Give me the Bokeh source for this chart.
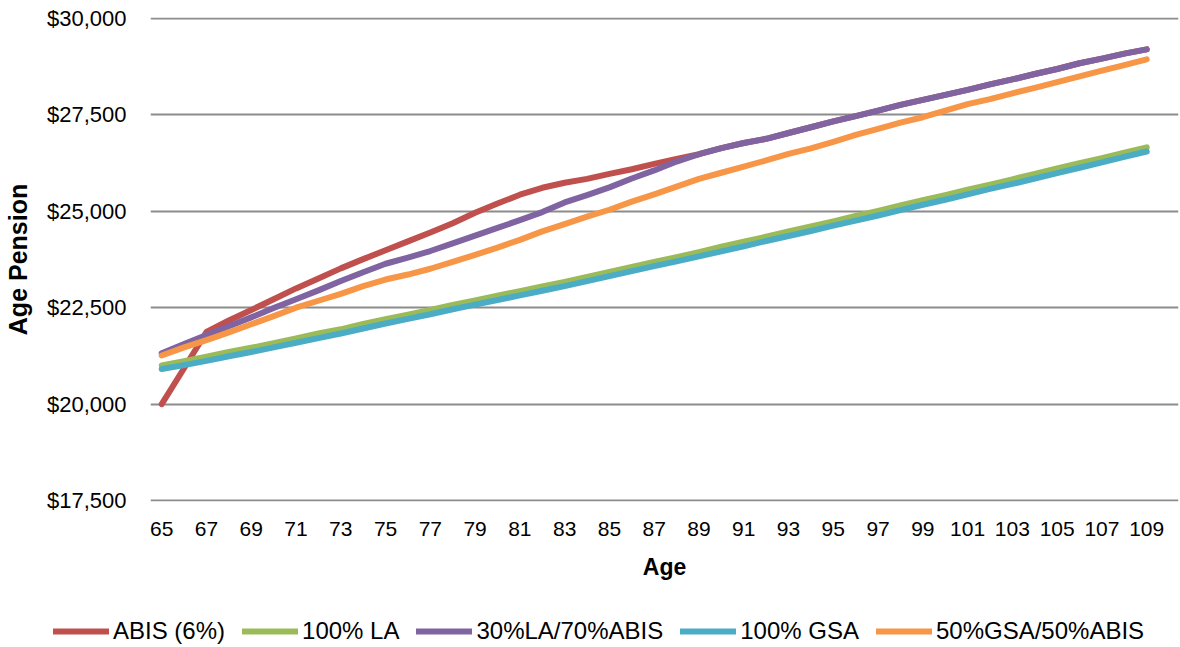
from bokeh.plotting import figure
from bokeh.layouts import column
from bokeh.models import Range1d, FixedTicker, NumeralTickFormatter, Legend, LegendItem
from bokeh.embed import file_html
from bokeh.resources import INLINE

ages = list(range(65, 110))

abis_6 = [20000, 20930, 21870, 22170, 22440, 22720, 23000, 23260, 23520, 23760,
          23990, 24220, 24450, 24690, 24960, 25200, 25430, 25610, 25740, 25840,
          25970, 26090, 26230, 26360, 26480, 26640, 26770, 26880, 27030, 27180,
          27330, 27470, 27610, 27760, 27890, 28020, 28150, 28290, 28420, 28560,
          28690, 28840, 28960, 29090, 29200]

la_100 = [21000, 21110, 21230, 21350, 21460, 21580, 21700, 21830, 21940, 22080,
          22200, 22320, 22440, 22570, 22690, 22810, 22930, 23050, 23170, 23300,
          23430, 23560, 23690, 23810, 23940, 24080, 24210, 24340, 24480, 24610,
          24740, 24880, 25010, 25150, 25290, 25420, 25560, 25690, 25830, 25970,
          26110, 26250, 26380, 26520, 26660]

la30_abis70 = [21320, 21560, 21790, 22020, 22250, 22490, 22720, 22950, 23190, 23420,
               23640, 23800, 23970, 24170, 24370, 24570, 24770, 24980, 25230, 25420,
               25620, 25850, 26060, 26290, 26480, 26640, 26770, 26880, 27030, 27180,
               27330, 27470, 27610, 27760, 27890, 28020, 28150, 28290, 28420, 28560,
               28690, 28840, 28960, 29090, 29200]

gsa_100 = [20910, 21010, 21120, 21240, 21350, 21470, 21590, 21710, 21830, 21960,
           22090, 22210, 22330, 22460, 22580, 22700, 22820, 22940, 23060, 23190,
           23320, 23450, 23580, 23700, 23830, 23960, 24090, 24230, 24360, 24490,
           24630, 24760, 24890, 25030, 25170, 25300, 25440, 25580, 25710, 25850,
           25990, 26130, 26270, 26410, 26550]

gsa50_abis50 = [21260, 21470, 21660, 21860, 22070, 22280, 22500, 22680, 22860, 23060,
                23230, 23360, 23510, 23690, 23870, 24060, 24260, 24480, 24670, 24860,
                25040, 25250, 25440, 25640, 25840, 26000, 26160, 26320, 26490, 26630,
                26800, 26980, 27140, 27300, 27440, 27610, 27780, 27910, 28060, 28200,
                28350, 28500, 28650, 28790, 28940]

series_names = ["ABIS (6%)", "100% LA", "30%LA/70%ABIS", "100% GSA", "50%GSA/50%ABIS"]
series_values = [abis_6, la_100, la30_abis70, gsa_100, gsa50_abis50]
series_colors = ["#C0504D", "#9BBB59", "#8064A2", "#4BACC6", "#F79646"]

y_ticks = [17500, 20000, 22500, 25000, 27500, 30000]
x_ticks = list(range(65, 110, 2))

FONT = "Liberation Sans"
LINE_W = 6

# ---------------- main chart ----------------
p = figure(width=1180, height=605, output_backend="svg", toolbar_location=None,
           x_range=Range1d(64.5, 110.42), y_range=Range1d(17474, 30026),
           min_border_left=147, min_border_right=2, min_border_top=17, min_border_bottom=104)
p.frame_align = False
p.outline_line_color = None
p.background_fill_color = "white"
p.border_fill_color = "white"

for name, vals, col in zip(series_names, series_values, series_colors):
    p.line(ages, vals, line_color=col, line_width=LINE_W, line_join="round", line_cap="round")

p.xgrid.grid_line_color = None
p.ygrid.ticker = FixedTicker(ticks=y_ticks)
p.ygrid.grid_line_color = "#8c8c8c"
p.ygrid.grid_line_width = 2

p.yaxis.ticker = FixedTicker(ticks=y_ticks)
p.yaxis.formatter = NumeralTickFormatter(format="$0,0")
p.yaxis.axis_line_color = None
p.yaxis.major_tick_line_color = None
p.yaxis.minor_tick_line_color = None
p.yaxis.major_label_standoff = 18
p.yaxis.major_label_text_font = FONT
p.yaxis.major_label_text_font_size = "22px"
p.yaxis.major_label_text_color = "#000000"
p.yaxis.axis_label = "Age Pension"
p.yaxis.axis_label_text_font = FONT
p.yaxis.axis_label_text_font_style = "bold"
p.yaxis.axis_label_text_font_size = "25px"
p.yaxis.axis_label_text_color = "#000000"
p.yaxis.axis_label_standoff = 12

p.xaxis.ticker = FixedTicker(ticks=x_ticks)
p.xaxis.axis_line_color = None
p.xaxis.major_tick_line_color = None
p.xaxis.minor_tick_line_color = None
p.xaxis.major_label_standoff = 14
p.xaxis.major_label_text_font = FONT
p.xaxis.major_label_text_font_size = "21px"
p.xaxis.major_label_text_color = "#000000"
p.xaxis.axis_label = "Age"
p.xaxis.axis_label_text_font = FONT
p.xaxis.axis_label_text_font_style = "bold"
p.xaxis.axis_label_text_font_size = "23px"
p.xaxis.axis_label_text_color = "#000000"
p.xaxis.axis_label_standoff = 15

# ---------------- legend strip ----------------
lf = figure(width=1180, height=42, output_backend="svg", toolbar_location=None,
            x_range=Range1d(0, 1), y_range=Range1d(0, 1),
            x_axis_type=None, y_axis_type=None,
            min_border_left=0, min_border_right=0, min_border_top=0, min_border_bottom=0)
lf.frame_align = False
lf.outline_line_color = None
lf.xgrid.grid_line_color = None
lf.ygrid.grid_line_color = None
lf.background_fill_color = "white"
lf.border_fill_color = "white"

items = []
for name, vals, col in zip(series_names, series_values, series_colors):
    # same series (outside this strip's ranges, so only the legend key shows)
    r = lf.line(ages, vals, line_color=col, line_width=LINE_W, line_cap="round")
    items.append(LegendItem(label=name, renderers=[r]))

legend = Legend(items=items, orientation="horizontal", location=(53, 2))
legend.label_text_font = FONT
legend.label_text_font_size = "24px"
legend.label_text_color = "#000000"
legend.glyph_width = 56
legend.glyph_height = 24
legend.label_standoff = 4
legend.spacing = 17
legend.padding = 0
legend.margin = 0
legend.border_line_color = None
legend.background_fill_alpha = 0
lf.add_layout(legend, "center")

layout = column(p, lf, spacing=0)
open("out.html", "w").write(file_html(layout, INLINE))
